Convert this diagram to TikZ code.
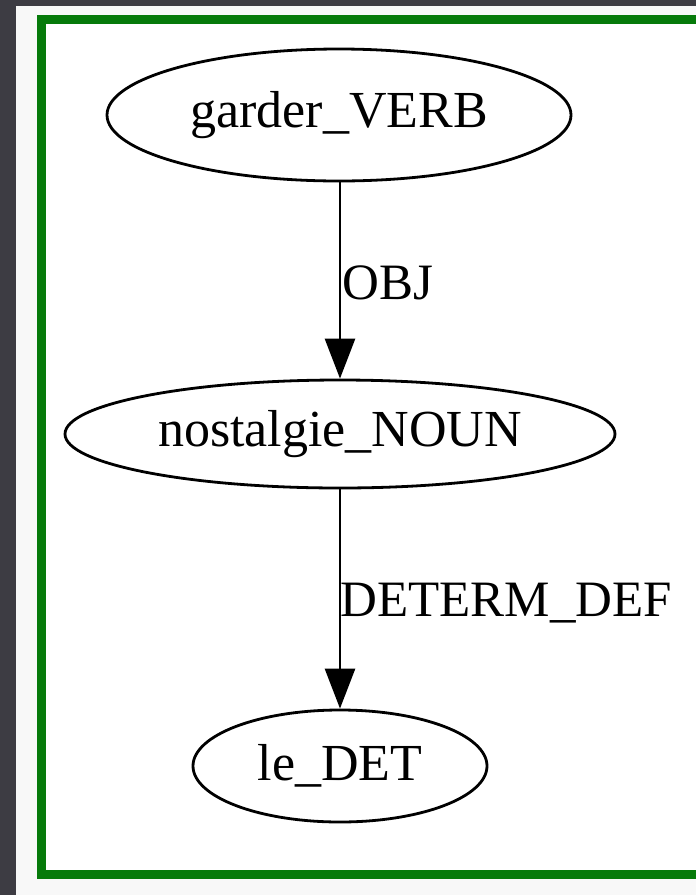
\documentclass[tikz,border=0pt]{standalone}
\usepackage{fontspec}
\setmainfont{Liberation Serif}
\usetikzlibrary{arrows.meta,shapes.geometric}
\definecolor{darkbg}{HTML}{3D3C43}
\definecolor{panel}{HTML}{F8F8F8}
\definecolor{frame}{HTML}{067A0A}
\tikzset{
  wnode/.style={draw=black, line width=2.8pt, ellipse, fill=white, inner sep=0pt,
    font=\fontsize{52}{60}\selectfont},
  dep/.style={draw=black, line width=2.8pt, -{Triangle[length=40pt,width=30pt]}},
  lab/.style={anchor=west, inner sep=0pt, font=\fontsize{51}{60}\selectfont}
}
\begin{document}
\begin{tikzpicture}[x=1pt,y=-1pt]
\useasboundingbox (0,0) rectangle (696,895);
\fill[darkbg] (0,0) rectangle (696,895);
\fill[panel] (16,6) rectangle (696,895);
\begin{scope}
\clip (0,0) rectangle (696,895);
\draw[frame, line width=9pt, fill=white] (41,19.5) rectangle (710,874.5);
\end{scope}
\node[wnode, minimum width=464pt, minimum height=132pt] (g) at (339,115) {garder\_VERB};
\node[wnode, minimum width=550pt, minimum height=108pt] (n) at (340,434) {nostalgie\_NOUN};
\node[wnode, minimum width=294pt, minimum height=112pt] (l) at (340,766) {le\_DET};
\draw[dep] (g.south -| n.center) -- (n.north) node[lab, pos=0.5, xshift=1pt, yshift=-2pt] (lo) {OBJ};
\draw[dep] (n.south) -- (l.north) node[lab, pos=0.52, xshift=-1pt] (ld) {DETERM\_DEF};
\end{tikzpicture}
\end{document}
